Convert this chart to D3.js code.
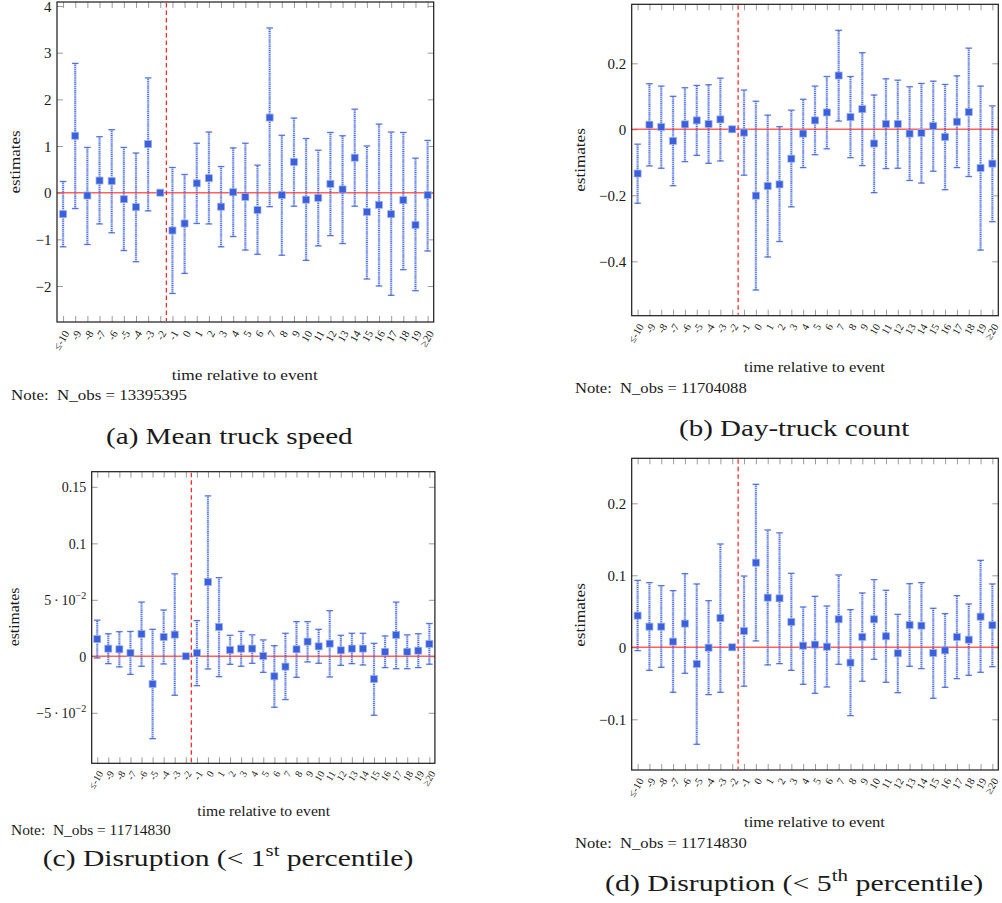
<!DOCTYPE html>
<html>
<head>
<meta charset="utf-8">
<script src="https://cdn.jsdelivr.net/npm/d3@7"></script>
<style>
  html, body { margin: 0; padding: 0; background: #fff; }
  svg { display: block; font-family: "Liberation Serif", serif; }
</style>
</head>
<body>
<svg id="fig" width="1002" height="903"></svg>
<script>
// Event-time categories shared by all four panels
const categories = ["≤-10","-9","-8","-7","-6","-5","-4","-3","-2","-1","0","1","2","3","4","5","6","7","8","9","10","11","12","13","14","15","16","17","18","19","≥20"];

// (a) Mean truck speed: point estimates and confidence bounds
const speedEst  = [-0.46, 1.22, -0.06, 0.26, 0.25, -0.14, -0.31, 1.04, 0, -0.81, -0.66, 0.20, 0.31, -0.30, 0.01, -0.09, -0.37, 1.61, -0.05, 0.66, -0.15, -0.11, 0.19, 0.07, 0.75, -0.41, -0.26, -0.46, -0.16, -0.69, -0.05];
const speedLow  = [-1.16, -0.34, -1.11, -0.67, -0.86, -1.24, -1.48, -0.39, 0, -2.16, -1.73, -0.66, -0.67, -1.16, -0.94, -1.23, -1.32, -0.30, -1.34, -0.29, -1.45, -1.14, -0.92, -1.09, -0.29, -1.85, -2.00, -2.20, -1.65, -2.10, -1.25];
const speedHigh = [0.24, 2.77, 0.97, 1.20, 1.35, 0.97, 0.85, 2.46, 0, 0.54, 0.39, 1.06, 1.30, 0.56, 0.96, 1.06, 0.59, 3.53, 1.23, 1.60, 1.16, 0.91, 1.29, 1.22, 1.79, 1.00, 1.47, 1.30, 1.29, 0.74, 1.12];

// (b) Day-truck count
const countEst  = [-0.134, 0.014, 0.007, -0.035, 0.015, 0.027, 0.016, 0.030, 0, -0.010, -0.201, -0.172, -0.167, -0.089, -0.013, 0.027, 0.051, 0.163, 0.037, 0.061, -0.043, 0.016, 0.016, -0.013, -0.011, 0.010, -0.023, 0.023, 0.052, -0.117, -0.104];
const countLow  = [-0.224, -0.111, -0.118, -0.171, -0.098, -0.079, -0.103, -0.096, 0, -0.139, -0.487, -0.387, -0.340, -0.235, -0.116, -0.077, -0.059, 0.025, -0.086, -0.110, -0.192, -0.119, -0.118, -0.155, -0.163, -0.127, -0.183, -0.116, -0.143, -0.366, -0.280];
const countHigh = [-0.045, 0.138, 0.131, 0.100, 0.126, 0.133, 0.135, 0.155, 0, 0.119, 0.085, 0.043, 0.008, 0.058, 0.091, 0.131, 0.160, 0.300, 0.160, 0.232, 0.104, 0.153, 0.149, 0.129, 0.139, 0.146, 0.136, 0.162, 0.246, 0.131, 0.071];

// (c) Disruption below the 1st percentile
const dis1Est  = [0.0153, 0.0068, 0.0062, 0.0030, 0.0198, -0.0245, 0.0171, 0.0192, 0, 0.0030, 0.0658, 0.0260, 0.0056, 0.0068, 0.0068, 0.0003, -0.0177, -0.0091, 0.0062, 0.0130, 0.0088, 0.0112, 0.0053, 0.0068, 0.0068, -0.0201, 0.0040, 0.0190, 0.0040, 0.0050, 0.0110];
const dis1Low  = [-0.0015, -0.0065, -0.0094, -0.0160, -0.0088, -0.0729, -0.0068, -0.0345, 0, -0.0260, -0.0112, -0.0180, -0.0071, -0.0088, -0.0062, -0.0142, -0.0451, -0.0383, -0.0186, -0.0050, -0.0062, -0.0183, -0.0080, -0.0065, -0.0077, -0.0522, -0.0100, -0.0110, -0.0110, -0.0100, -0.0070];
const dis1High = [0.0320, 0.0200, 0.0218, 0.0220, 0.0480, 0.0239, 0.0410, 0.0730, 0, 0.0316, 0.1420, 0.0696, 0.0186, 0.0220, 0.0190, 0.0145, 0.0094, 0.0204, 0.0307, 0.0307, 0.0239, 0.0404, 0.0186, 0.0204, 0.0204, 0.0115, 0.0180, 0.0480, 0.0190, 0.0200, 0.0290];

// (d) Disruption below the 5th percentile
const dis5Est  = [0.0440, 0.0287, 0.0287, 0.0079, 0.0329, -0.0231, -0.0005, 0.0407, 0, 0.0227, 0.1176, 0.0690, 0.0680, 0.0352, 0.0023, 0.0037, 0.0009, 0.0389, -0.0213, 0.0144, 0.0389, 0.0153, -0.0083, 0.0310, 0.0301, -0.0079, -0.0042, 0.0144, 0.0106, 0.0426, 0.0306];
const dis5Low  = [-0.0046, -0.0320, -0.0278, -0.0625, -0.0361, -0.1347, -0.0657, -0.0625, 0, -0.0540, 0.0088, -0.0245, -0.0227, -0.0320, -0.0514, -0.0639, -0.0551, -0.0236, -0.0949, -0.0472, -0.0167, -0.0486, -0.0630, -0.0264, -0.0296, -0.0708, -0.0556, -0.0435, -0.0389, -0.0347, -0.0269];
const dis5High = [0.0930, 0.0898, 0.0856, 0.0787, 0.1023, 0.0880, 0.0648, 0.1435, 0, 0.0990, 0.2264, 0.1630, 0.1590, 0.1028, 0.0560, 0.0708, 0.0574, 0.1005, 0.0523, 0.0755, 0.0940, 0.0792, 0.0458, 0.0884, 0.0898, 0.0542, 0.0468, 0.0718, 0.0602, 0.1208, 0.0880];

// Y-axis tick values and their printed labels ("^" marks an exponent)
const speedTicks = [-2, -1, 0, 1, 2, 3, 4];
const speedTickLabels = ["−2", "−1", "0", "1", "2", "3", "4"];
const countTicks = [-0.4, -0.2, 0, 0.2];
const countTickLabels = ["−0.4", "−0.2", "0", "0.2"];
const dis1Ticks = [-0.05, 0, 0.05, 0.1, 0.15];
const dis1TickLabels = ["−5\u2009·\u200910^−2", "0", "5\u2009·\u200910^−2", "0.1", "0.15"];
const dis5Ticks = [-0.1, 0, 0.1, 0.2];
const dis5TickLabels = ["−0.1", "0", "0.1", "0.2"];

// Observation counts and sub-captions
const obsCounts = ["13395395", "11704088", "11714830", "11714830"];
const captions = [
  ["(a) Mean truck speed"],
  ["(b) Day-truck count"],
  ["(c) Disruption (< 1", "st", " percentile)"],
  ["(d) Disruption (< 5", "th", " percentile)"]
];
const axisTitle = "time relative to event";
const yTitle = "estimates";
const eventBefore = "-2", eventAfter = "-1";

// Layout of each sub-figure
const panels = [
  { est: speedEst, low: speedLow, high: speedHigh, ticks: speedTicks, tickLabels: speedTickLabels,
    box: [57, 2, 433.7, 322], domain: [-2.771, 4.086], yfs: 15, xfs: 11, fs: 15.5,
    title: [244.7, 375, 146], note: [11, 395.7, 176], cap: [106, 438, 246.7], ylab: [15, 162, 63] },
  { est: countEst, low: countLow, high: countHigh, ticks: countTicks, tickLabels: countTickLabels,
    box: [631.7, 4.3, 998.3, 315.7], domain: [-0.5648, 0.3788], yfs: 15, xfs: 10.6, fs: 15,
    title: [814.5, 366.7, 141], note: [575, 388, 171.7], cap: [679, 430.7, 230.3], ylab: [580, 160, 63.7] },
  { est: dis1Est, low: dis1Low, high: dis1High, ticks: dis1Ticks, tickLabels: dis1TickLabels,
    box: [91.7, 471.7, 434.9, 763.3], domain: [-0.0947, 0.1634], yfs: 14, xfs: 10, fs: 14.2,
    title: [263.7, 811, 132.7], note: [11, 830.7, 159.7], cap: [42.7, 860, 370.6], ylab: [15, 617, 58.7] },
  { est: dis5Est, low: dis5Low, high: dis5High, ticks: dis5Ticks, tickLabels: dis5TickLabels,
    box: [631.7, 458.3, 998.3, 770], domain: [-0.1704, 0.2625], yfs: 15, xfs: 10.6, fs: 15,
    title: [814.5, 821.7, 141], note: [575, 843.3, 171.7], cap: [605, 885, 378.3], ylab: [580, 615, 63.7] }
];

const serif = "Liberation Serif";
const ink = "#1a1a1a";
const tickGray = "#9b9b9b";
const blue = "#3b60db";
const red = "#ff2e2e";
const svg = d3.select("#fig");

// Writes text with "^"-marked exponents as raised tspans
function writeWithExponent(sel, str, fs) {
  const parts = str.split("^");
  sel.text(null);
  sel.append("tspan").text(parts[0]);
  if (parts.length > 1) {
    sel.append("tspan").attr("dy", -fs * 0.42).attr("font-size", fs * 0.72).text(parts[1]);
  }
}

function drawPanel(p, k) {
  const [x0, y0, x1, y1] = p.box;
  const x = d3.scalePoint().domain(categories).range([x0, x1]).padding(0.5);
  const y = d3.scaleLinear().domain(p.domain).range([y1, y0]);
  const g = svg.append("g");
  const rows = categories.map((c, i) => ({ c, est: p.est[i], lo: p.low[i], hi: p.high[i] }));

  // x ticks, bottom (with rotated labels) and top
  const gxb = g.append("g").attr("transform", `translate(0,${y1})`)
    .call(d3.axisBottom(x).tickSizeInner(-6).tickSizeOuter(0));
  gxb.attr("font-family", serif);
  gxb.select(".domain").remove();
  gxb.selectAll(".tick line").attr("stroke", tickGray).attr("stroke-width", 1);
  gxb.selectAll(".tick text")
    .attr("font-family", serif).attr("font-size", p.xfs).attr("fill", ink)
    .attr("text-anchor", "end").attr("x", 0).attr("y", 0).attr("dy", "0.32em")
    .attr("transform", `translate(3,${p.xfs * 0.85}) rotate(-60)`);

  const gxt = g.append("g").attr("transform", `translate(0,${y0})`)
    .call(d3.axisTop(x).tickSizeInner(-6).tickSizeOuter(0).tickFormat(""));
  gxt.select(".domain").remove();
  gxt.selectAll(".tick line").attr("stroke", tickGray).attr("stroke-width", 1);

  // y ticks, left (labelled) and right
  const gyl = g.append("g").attr("transform", `translate(${x0},0)`)
    .call(d3.axisLeft(y).tickValues(p.ticks).tickSizeInner(-6).tickSizeOuter(0).tickPadding(5.5)
      .tickFormat((d, i) => p.tickLabels[i]));
  gyl.attr("font-family", serif);
  gyl.select(".domain").remove();
  gyl.selectAll(".tick line").attr("stroke", tickGray).attr("stroke-width", 1);
  gyl.selectAll(".tick text")
    .attr("font-family", serif).attr("font-size", p.yfs).attr("fill", ink)
    .attr("dy", "0.34em")
    .each(function (d, i) { writeWithExponent(d3.select(this), p.tickLabels[i], p.yfs); });

  const gyr = g.append("g").attr("transform", `translate(${x1},0)`)
    .call(d3.axisRight(y).tickValues(p.ticks).tickSizeInner(-6).tickSizeOuter(0).tickFormat(""));
  gyr.select(".domain").remove();
  gyr.selectAll(".tick line").attr("stroke", tickGray).attr("stroke-width", 1);

  // Confidence intervals: soft underlay plus a dense dotted stroke
  const bars = rows.filter(d => d.hi !== d.lo);
  g.append("g").selectAll("line").data(bars).join("line")
    .attr("x1", d => x(d.c)).attr("x2", d => x(d.c))
    .attr("y1", d => y(d.lo)).attr("y2", d => y(d.hi))
    .attr("stroke", "#c9d4f6").attr("stroke-width", 2.6);
  g.append("g").selectAll("line").data(bars).join("line")
    .attr("x1", d => x(d.c)).attr("x2", d => x(d.c))
    .attr("y1", d => y(d.lo)).attr("y2", d => y(d.hi))
    .attr("stroke", blue).attr("stroke-width", 1.7).attr("stroke-dasharray", "0.8 1.1");
  const caps = bars.flatMap(d => [{ c: d.c, v: d.lo }, { c: d.c, v: d.hi }]);
  g.append("g").selectAll("line").data(caps).join("line")
    .attr("x1", d => x(d.c) - 3.3).attr("x2", d => x(d.c) + 3.3)
    .attr("y1", d => y(d.v)).attr("y2", d => y(d.v))
    .attr("stroke", blue).attr("stroke-width", 1.3).attr("opacity", 0.85);

  // Zero reference line and event-date marker
  g.append("line")
    .attr("x1", x0).attr("x2", x1).attr("y1", y(0)).attr("y2", y(0))
    .attr("stroke", red).attr("stroke-opacity", 0.75).attr("stroke-width", 1.6);
  const xe = (x(eventBefore) + x(eventAfter)) / 2;
  g.append("line")
    .attr("x1", xe).attr("x2", xe).attr("y1", y0 + 1).attr("y2", y1 - 1)
    .attr("stroke", red).attr("stroke-width", 1.3).attr("stroke-dasharray", "4.5 3");

  // Point estimates
  g.append("g").selectAll("rect").data(rows).join("rect")
    .attr("x", d => x(d.c) - 3.5).attr("y", d => y(d.est) - 3.5)
    .attr("width", 7).attr("height", 7)
    .attr("fill", blue).attr("stroke", "#9db0f0").attr("stroke-width", 0.7);

  // Frame
  g.append("rect")
    .attr("x", x0).attr("y", y0).attr("width", x1 - x0).attr("height", y1 - y0)
    .attr("fill", "none").attr("stroke", ink).attr("stroke-width", 1.2);

  // Axis titles
  g.append("text")
    .attr("x", p.title[0]).attr("y", p.title[1] + p.fs * 0.345)
    .attr("text-anchor", "middle").attr("font-family", serif).attr("font-size", p.fs).attr("fill", ink)
    .attr("textLength", p.title[2]).attr("lengthAdjust", "spacingAndGlyphs")
    .text(axisTitle);
  g.append("text")
    .attr("transform", `translate(${p.ylab[0] + p.fs * 0.3},${p.ylab[1]}) rotate(-90)`)
    .attr("text-anchor", "middle").attr("font-family", serif).attr("font-size", p.fs).attr("fill", ink)
    .attr("textLength", p.ylab[2]).attr("lengthAdjust", "spacingAndGlyphs")
    .text(yTitle);

  // Observation note
  g.append("text")
    .attr("x", p.note[0]).attr("y", p.note[1] + p.fs * 0.3)
    .attr("font-family", serif).attr("font-size", p.fs).attr("fill", ink)
    .attr("textLength", p.note[2]).attr("lengthAdjust", "spacingAndGlyphs")
    .attr("xml:space", "preserve")
    .text("Note:  N_obs = " + obsCounts[k]);

  // Sub-caption
  const capFs = 23;
  const cap = g.append("text")
    .attr("x", p.cap[0]).attr("y", p.cap[1] + capFs * 0.25)
    .attr("font-family", serif).attr("font-size", capFs).attr("fill", ink)
    .attr("textLength", p.cap[2]).attr("lengthAdjust", "spacingAndGlyphs");
  const parts = captions[k];
  cap.append("tspan").text(parts[0]);
  if (parts.length > 1) {
    cap.append("tspan").attr("dy", -capFs * 0.42).attr("font-size", capFs * 0.7).text(parts[1]);
    cap.append("tspan").attr("dy", capFs * 0.42).text(parts[2]);
  }
}

panels.forEach(drawPanel);
</script>
</body>
</html>
